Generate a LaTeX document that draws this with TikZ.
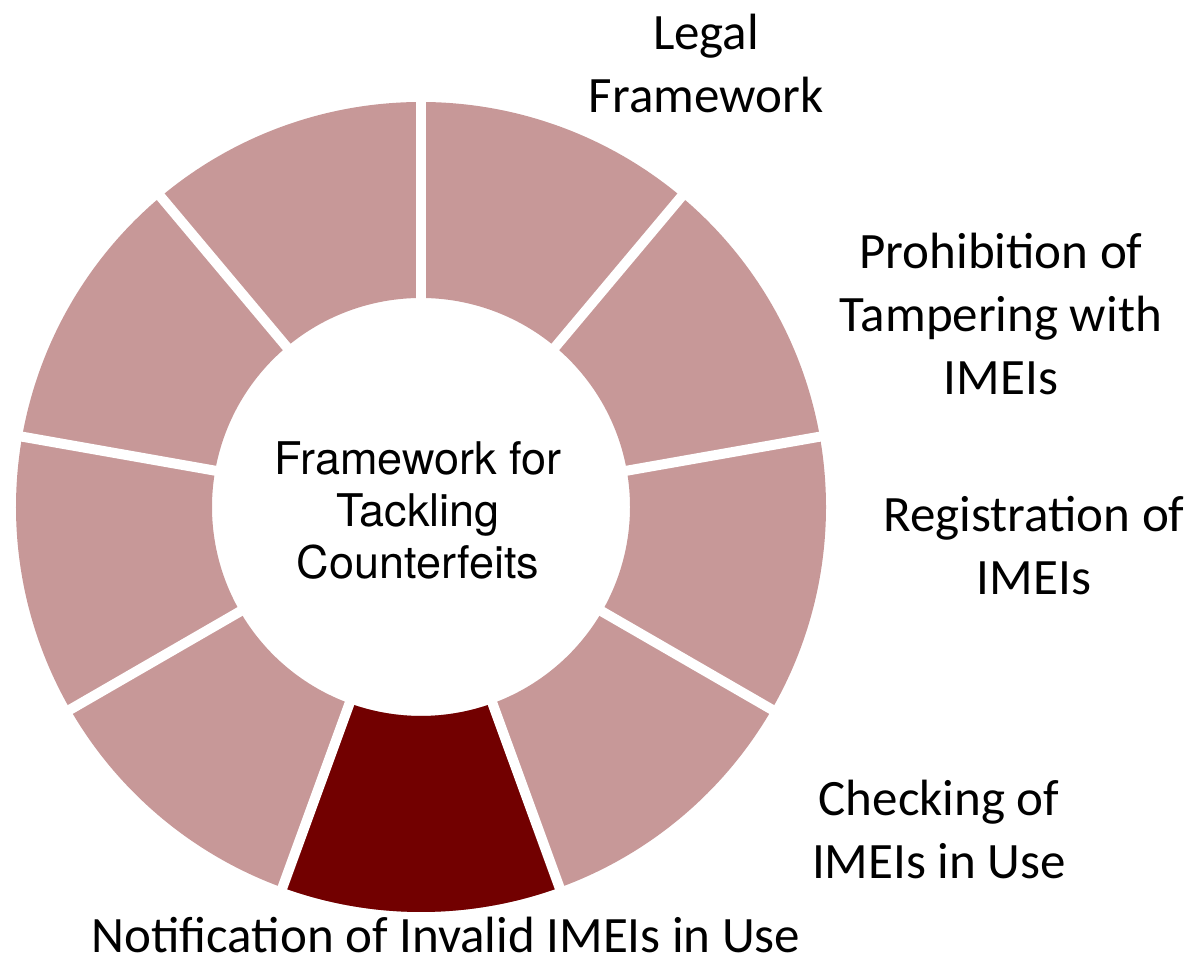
\documentclass[tikz,border=0pt]{standalone}
\usepackage{fontspec}
\setmainfont{Carlito}
\newfontfamily\hubfont{TeX Gyre Heros}
\definecolor{segpink}{RGB}{199,152,152}
\definecolor{segdark}{RGB}{114,0,0}
\tikzstyle{seg}=[fill=segpink]
\tikzstyle{segsel}=[fill=segdark]
\tikzstyle{gap}=[white,line width=10pt]
\tikzstyle{lbl}=[align=center,inner sep=0pt,font=\fontsize{51}{63}\selectfont]
\tikzstyle{hub}=[align=center,inner sep=0pt,font=\hubfont\fontsize{45}{52}\selectfont]

\begin{document}
\begin{tikzpicture}[x=1pt,y=1pt]
    \useasboundingbox (0,0) rectangle (1192,960);
    \begin{scope}[shift={(421,453)}]
    \foreach \a in {90,130,...,410}
    \fill[seg] (\a:405) arc[start angle=\a,end angle=\a+40,radius=405]
        -- (\a+40:209) arc[start angle=\a+40,end angle=\a,radius=209] -- cycle;
    \fill[segsel] (250:405) arc[start angle=250,end angle=290,radius=405]
        -- (290:209) arc[start angle=290,end angle=250,radius=209] -- cycle;
    \foreach \a in {90,130,...,410}
    \draw[gap] (\a:200) -- (\a:415);
    \end{scope}

    \node[hub] (hub) at (418,450) {Framework for\\Tackling\\Counterfeits};
    \node[lbl] (legal) at (706,897) {Legal\\Framework};
    \node[lbl] (prohib) at (1001,646) {Prohibition of\\Tampering with\\IMEIs};
    \node[lbl] (regist) at (1034,414) {Registration of\\IMEIs};
    \node[lbl] (check) at (939,131) {Checking of\\IMEIs in Use};
    \node[lbl,anchor=base] (notif) at (446,7) {Notification of Invalid IMEIs in Use};
\end{tikzpicture}
\end{document}
